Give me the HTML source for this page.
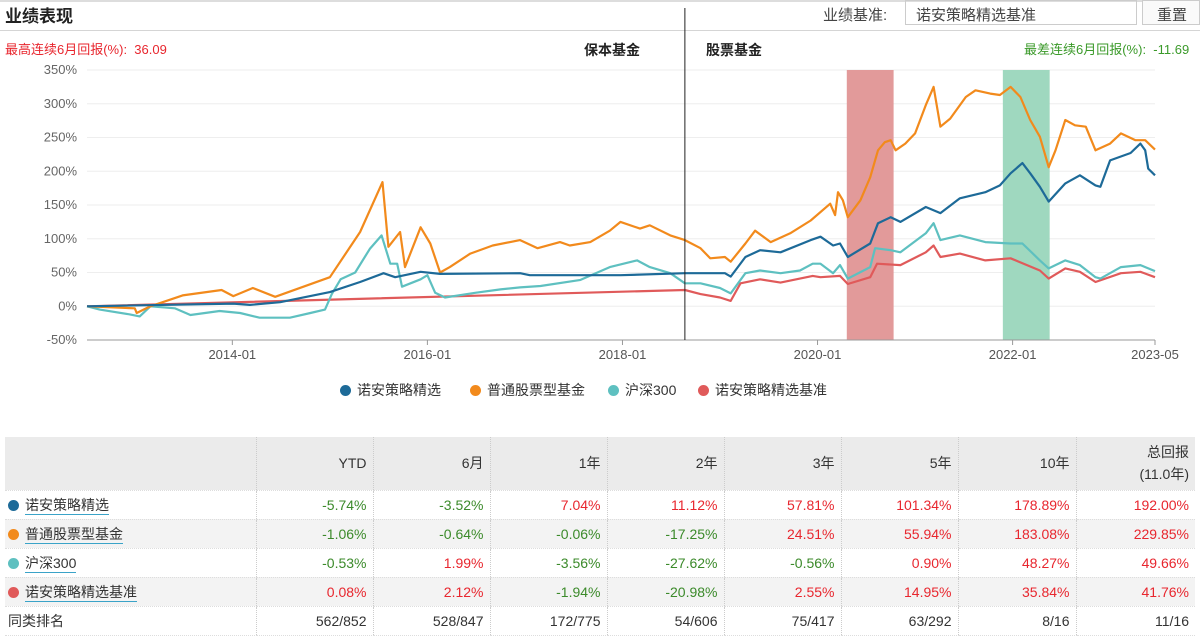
<!DOCTYPE html>
<html><head><meta charset="utf-8"><style>
*{margin:0;padding:0;box-sizing:border-box}
body{width:1200px;height:634px;overflow:hidden;background:#fff;font-family:"Liberation Sans","Noto Sans CJK SC",sans-serif;color:#333;position:relative}
.abs{position:absolute;white-space:nowrap}
table{position:absolute;left:5px;top:437px;border-collapse:collapse;font-size:14px}
td{height:29px;text-align:right;padding-right:6px;border-left:1px dotted #ccc;border-bottom:1px dotted #ddd}
td:first-child{text-align:left;border-left:none;padding-left:3px}
thead td{height:53px;background:#ebebeb;color:#333;line-height:22px}
tbody tr:nth-child(even) td{background:#f3f3f3}
.r{color:#e8262e}.g{color:#3b8a2a}
.dot{display:inline-block;width:11px;height:11px;border-radius:50%;margin-right:6px;vertical-align:-1px}
.lk{border-bottom:1.5px solid #3aa3c8;padding-bottom:1px}
</style></head><body>
<div class="abs" style="left:0;top:0;width:1200px;height:2px;background:#ddd"></div>
<div class="abs" style="left:5px;top:2px;font-size:17px;font-weight:bold;color:#222">业绩表现</div>
<div class="abs" style="left:0;top:30px;width:1200px;height:1px;background:#d5d5d5"></div>
<div class="abs" style="left:823px;top:4px;font-size:15px;color:#444">业绩基准:</div>
<div class="abs" style="left:905px;top:0;width:232px;height:25px;border:1px solid #ccc;font-size:15px;padding:3px 10px;color:#444">诺安策略精选基准</div>
<div class="abs" style="left:1142px;top:0;width:58px;height:25px;border:1px solid #ccc;font-size:15px;padding:3px 14px;color:#444;background:#fafafa">重置</div>
<div class="abs" style="left:5px;top:39px;font-size:13px;color:#e8262e">最高连续6月回报(%):&nbsp; 36.09</div>
<div class="abs" style="left:1024px;top:39px;font-size:13px;color:#3b9a2a">最差连续6月回报(%):&nbsp; -11.69</div>
<div class="abs" style="left:584px;top:40px;font-size:14px;font-weight:bold;color:#222">保本基金</div>
<div class="abs" style="left:706px;top:40px;font-size:14px;font-weight:bold;color:#222">股票基金</div>

<svg id="chart" class="abs" style="left:0;top:0" width="1200" height="420"></svg>

<div class="abs" style="left:0;top:380px;width:1200px;font-size:14px;color:#333">
<span class="abs" style="left:340px"><span class="dot" style="background:#1d6a98"></span>诺安策略精选</span>
<span class="abs" style="left:470px"><span class="dot" style="background:#f28a1c"></span>普通股票型基金</span>
<span class="abs" style="left:608px"><span class="dot" style="background:#5ec0c0"></span>沪深300</span>
<span class="abs" style="left:698px"><span class="dot" style="background:#e05a5a"></span>诺安策略精选基准</span>
</div>

<table>
<colgroup><col style="width:251px"><col style="width:117px"><col style="width:117px"><col style="width:117px"><col style="width:117px"><col style="width:117px"><col style="width:117px"><col style="width:118px"><col style="width:119px"></colgroup>
<thead><tr><td></td><td>YTD</td><td>6月</td><td>1年</td><td>2年</td><td>3年</td><td>5年</td><td>10年</td><td>总回报<br>(11.0年)</td></tr></thead>
<tbody>
<tr><td><span class="dot" style="background:#1d6a98"></span><span class="lk">诺安策略精选</span></td><td class="g">-5.74%</td><td class="g">-3.52%</td><td class="r">7.04%</td><td class="r">11.12%</td><td class="r">57.81%</td><td class="r">101.34%</td><td class="r">178.89%</td><td class="r">192.00%</td></tr>
<tr><td><span class="dot" style="background:#f28a1c"></span><span class="lk">普通股票型基金</span></td><td class="g">-1.06%</td><td class="g">-0.64%</td><td class="g">-0.06%</td><td class="g">-17.25%</td><td class="r">24.51%</td><td class="r">55.94%</td><td class="r">183.08%</td><td class="r">229.85%</td></tr>
<tr><td><span class="dot" style="background:#5ec0c0"></span><span class="lk">沪深300</span></td><td class="g">-0.53%</td><td class="r">1.99%</td><td class="g">-3.56%</td><td class="g">-27.62%</td><td class="g">-0.56%</td><td class="r">0.90%</td><td class="r">48.27%</td><td class="r">49.66%</td></tr>
<tr><td><span class="dot" style="background:#e05a5a"></span><span class="lk">诺安策略精选基准</span></td><td class="r">0.08%</td><td class="r">2.12%</td><td class="g">-1.94%</td><td class="g">-20.98%</td><td class="r">2.55%</td><td class="r">14.95%</td><td class="r">35.84%</td><td class="r">41.76%</td></tr>
<tr><td>同类排名</td><td>562/852</td><td>528/847</td><td>172/775</td><td>54/606</td><td>75/417</td><td>63/292</td><td>8/16</td><td>11/16</td></tr>
</tbody></table>

<script>
const yTicks=[350,300,250,200,150,100,50,0,-50];
const xTickLabels=["2014-01","2016-01","2018-01","2020-01","2022-01","2023-05"];
const xTickValues=[2014.0,2016.0,2018.0,2020.0,2022.0,2023.46];
const bands=[[2020.30,2020.78,"#e29a9a"],[2021.90,2022.38,"#9fd8bf"]];
const phaseSwitch=2018.64;

const fundDates=[2012.51,2014.01,2014.18,2014.49,2015.00,2015.31,2015.55,2015.67,2015.93,2016.13,2016.95,2017.05,2017.98,2018.64,2019.05,2019.11,2019.26,2019.41,2019.62,2019.93,2020.03,2020.16,2020.23,2020.31,2020.54,2020.62,2020.75,2020.85,2021.11,2021.26,2021.46,2021.72,2021.87,2021.98,2022.10,2022.18,2022.28,2022.37,2022.54,2022.69,2022.85,2022.90,2023.00,2023.21,2023.31,2023.36,2023.39,2023.46];
const fundValues=[0,4,2,6,21,36,49,43,51,48,49,46,46,49,49,44,73,83,80,98,103,90,93,73,93,123,132,125,147,138,160,169,179,197,212,197,177,155,182,194,179,177,216,227,241,231,204,194];

const peerDates=[2012.51,2013.00,2013.02,2013.16,2013.49,2013.89,2014.01,2014.21,2014.44,2015.00,2015.31,2015.54,2015.60,2015.72,2015.77,2015.93,2016.03,2016.13,2016.23,2016.44,2016.67,2016.95,2017.13,2017.36,2017.46,2017.67,2017.87,2017.98,2018.18,2018.28,2018.49,2018.64,2018.80,2018.90,2019.05,2019.11,2019.26,2019.36,2019.52,2019.72,2019.93,2020.13,2020.18,2020.21,2020.26,2020.31,2020.44,2020.54,2020.62,2020.69,2020.75,2020.80,2020.90,2021.00,2021.11,2021.19,2021.26,2021.36,2021.52,2021.62,2021.77,2021.87,2021.98,2022.08,2022.18,2022.28,2022.37,2022.44,2022.54,2022.64,2022.75,2022.85,2023.00,2023.11,2023.26,2023.36,2023.46];
const peerValues=[0,-3,-10,0,16,24,15,27,14,43,110,184,88,110,58,117,93,50,58,78,90,98,86,95,90,95,112,125,115,120,105,98,86,71,73,66,93,112,95,108,127,152,135,169,157,132,157,191,231,243,246,231,241,256,298,325,266,278,310,320,315,313,325,310,276,251,206,231,276,268,266,231,241,256,246,246,232];

const csiDates=[2012.51,2012.64,2012.95,2013.05,2013.16,2013.41,2013.57,2013.87,2014.08,2014.28,2014.59,2014.80,2014.95,2015.02,2015.11,2015.26,2015.41,2015.53,2015.62,2015.69,2015.74,2015.93,2016.00,2016.08,2016.18,2016.49,2016.75,2016.95,2017.16,2017.57,2017.87,2018.15,2018.28,2018.49,2018.64,2018.80,2019.00,2019.11,2019.26,2019.41,2019.62,2019.82,2019.95,2020.03,2020.16,2020.23,2020.31,2020.54,2020.59,2020.75,2020.85,2021.11,2021.19,2021.26,2021.46,2021.72,2021.98,2022.10,2022.28,2022.37,2022.54,2022.69,2022.85,2022.90,2023.11,2023.31,2023.46];
const csiValues=[0,-5,-12,-15,0,-3,-13,-7,-10,-17,-17,-10,-5,18,40,50,85,105,63,63,29,40,46,20,13,20,25,28,30,39,58,68,58,49,34,34,27,19,49,53,49,53,63,63,49,61,41,58,86,83,80,108,123,98,105,95,93,93,68,56,68,61,43,41,58,61,52];

const benchDates=[2012.51,2018.64,2018.80,2019.00,2019.11,2019.21,2019.41,2019.62,2019.95,2020.03,2020.23,2020.31,2020.54,2020.61,2020.85,2021.11,2021.19,2021.26,2021.46,2021.72,2021.98,2022.28,2022.37,2022.54,2022.69,2022.85,2023.11,2023.31,2023.46];
const benchValues=[0,24,18,13,8,34,40,35,45,43,45,33,43,63,61,80,90,73,78,68,71,53,41,56,51,36,49,51,43];

const X0=87,X1=1155,Y0=70,Y1=340,T0=2012.51,T1=2023.46,V0=350,V1=-50;
const sx=t=>X0+(t-T0)/(T1-T0)*(X1-X0);
const sy=v=>Y0+(V0-v)/(V0-V1)*(Y1-Y0);
const NS="http://www.w3.org/2000/svg";
const svg=document.getElementById('chart');
function mk(tag,attrs){const e=document.createElementNS(NS,tag);for(const k in attrs)e.setAttribute(k,attrs[k]);svg.appendChild(e);return e;}

yTicks.forEach(v=>{
  const l=mk('line',{x1:X0,x2:X1,y1:sy(v),y2:sy(v),stroke:v===-50?'#999':'#eeeeee','stroke-width':1});
  
  
  const t=mk('text',{x:77,y:sy(v)+4,'text-anchor':'end','font-size':13,fill:'#666'});
  t.textContent=v+'%';
  
  
});
bands.forEach((b,i)=>{
  const r=mk('rect',{x:sx(b[0]),y:Y0,width:sx(b[1])-sx(b[0]),height:Y1-Y0-0.5,fill:b[2]});
  
  
});
xTickValues.forEach((tv,i)=>{
  const l=mk('line',{x1:sx(tv),x2:sx(tv),y1:Y1,y2:Y1+5,stroke:'#999'});
  
  
  const t=mk('text',{x:sx(tv),y:Y1+19,'text-anchor':'middle','font-size':13,fill:'#555'});
  t.textContent=xTickLabels[i];
  
  
});
function line(d,v,c,name){
  const p=mk('polyline',{points:d.map((t,i)=>sx(t).toFixed(1)+','+sy(v[i]).toFixed(1)).join(' '),fill:'none',stroke:c,'stroke-width':2.2,'stroke-linejoin':'round'});
  
  
}
line(benchDates,benchValues,'#e05a5a','benchmark-line');
line(csiDates,csiValues,'#5ec0c0','csi300-line');
line(peerDates,peerValues,'#f28a1c','peer-average-line');
line(fundDates,fundValues,'#1d6a98','fund-line');
const vl=mk('line',{x1:sx(phaseSwitch),x2:sx(phaseSwitch),y1:8,y2:Y1,stroke:'#222','stroke-width':1});


</script>
</body></html>
